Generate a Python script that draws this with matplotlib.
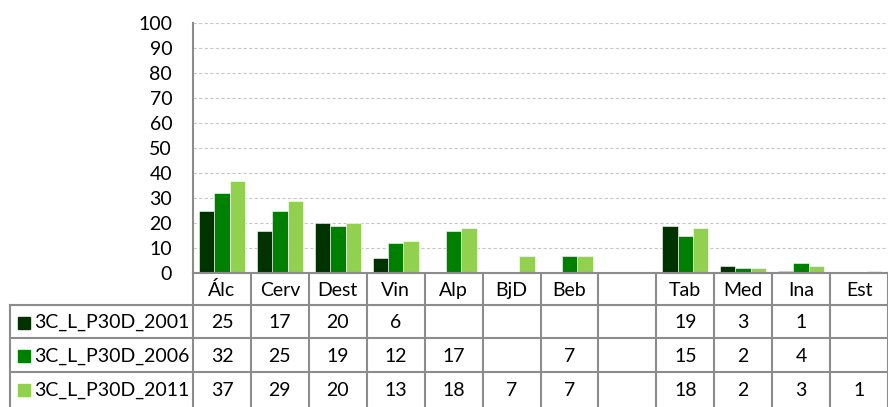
import numpy as np
import matplotlib.pyplot as plt

plt.rcParams['font.family'] = ['Lato', 'DejaVu Sans']

categories = ["Álc", "Cerv", "Dest", "Vin", "Alp", "BjD", "Beb", "", "Tab", "Med", "Ina", "Est"]
series_names = ["3C_L_P30D_2001", "3C_L_P30D_2006", "3C_L_P30D_2011"]
v2001 = [25, 17, 20, 6, None, None, None, None, 19, 3, 1, None]
v2006 = [32, 25, 19, 12, 17, None, 7, None, 15, 2, 4, None]
v2011 = [37, 29, 20, 13, 18, 7, 7, None, 18, 2, 3, 1]
series = [v2001, v2006, v2011]
colors = ["#003300", "#008000", "#92D050"]

W, H = 888, 407
fig = plt.figure(figsize=(W / 100, H / 100), dpi=100)
fs = 14

ax_l, ax_r, ax_t, ax_b = 193, 888, 23, 273
ax = fig.add_axes([ax_l / W, 1 - ax_b / H, (ax_r - ax_l) / W, (ax_b - ax_t) / H])

n = len(categories)
x = np.arange(n)
bw = 0.267
for i, (vals, c) in enumerate(zip(series, colors)):
    h = [np.nan if v is None else v for v in vals]
    ax.bar(x + (i - 1) * bw, h, width=bw, color=c, edgecolor="white", linewidth=0.4)

ax.set_xlim(-0.5, n - 0.5)
ax.set_ylim(0, 100)
ax.set_yticks(range(0, 101, 10))
ax.set_xticks([])
ax.tick_params(axis="y", length=0, pad=15, labelsize=fs)
ax.yaxis.grid(True, color="#c8c8c8", linestyle=(0, (3, 2)), linewidth=0.8)
ax.set_axisbelow(True)
for s in ["top", "right"]:
    ax.spines[s].set_visible(False)
ax.spines["left"].set_color("#8c8c8c")
ax.spines["left"].set_linewidth(1.5)
ax.spines["bottom"].set_color("#8c8c8c")
ax.spines["bottom"].set_linewidth(1.5)

# data table below the plot
colw = (ax_r - ax_l) / n
tb_l = 10
left_units = (ax_l - tb_l) / colw
tab = fig.add_axes([tb_l / W, 0, (W - tb_l) / W, 1 - ax_b / H])
tab.set_xlim(-0.5 - left_units, n - 0.5)
rows_top = [273, 305, 338, 372, 406]
tab.set_ylim(H, ax_b)
tab.axis("off")
lc = "#8c8c8c"
lw = 1.5

# vertical lines
for k in range(n + 1):
    tab.plot([k - 0.5, k - 0.5], [rows_top[0], H], color=lc, lw=lw, clip_on=False)
tab.plot([-0.5 - left_units] * 2, [rows_top[1], H], color=lc, lw=lw, clip_on=False)
# horizontal lines
for yy in rows_top[1:4]:
    tab.plot([-0.5 - left_units, n - 0.5], [yy, yy], color=lc, lw=lw, clip_on=False)

# header
for k, cat in enumerate(categories):
    tab.text(k, (rows_top[0] + rows_top[1]) / 2 + 1, cat, ha="center", va="center", fontsize=fs)

for r, (name, vals, c) in enumerate(zip(series_names, series, colors)):
    yc = (rows_top[r + 1] + rows_top[r + 2]) / 2 + 1
    xk = -0.5 - left_units + 13.5 / colw
    tab.plot([xk], [yc], marker="s", ms=9, color=c, clip_on=False)
    tab.text(-0.5 - left_units + 24 / colw, yc, name, ha="left", va="center", fontsize=fs)
    for k, v in enumerate(vals):
        if v is not None:
            tab.text(k, yc, str(v), ha="center", va="center", fontsize=fs)

fig.savefig("out.png", dpi=100)
